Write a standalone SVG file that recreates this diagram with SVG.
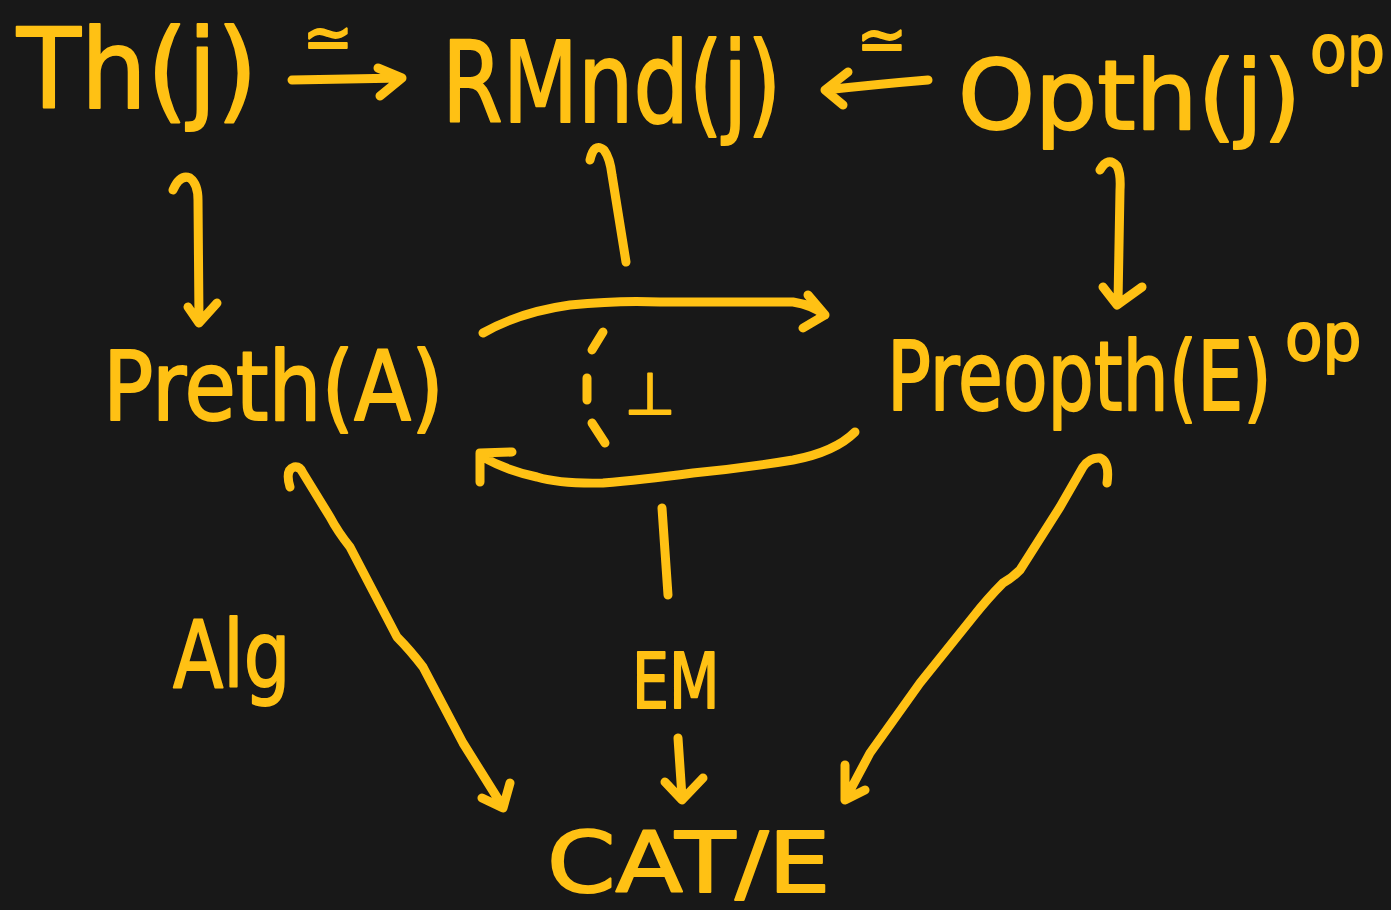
<svg xmlns="http://www.w3.org/2000/svg" width="1391" height="910" viewBox="0 0 1391 910">
<style>
.t{fill:#FFC114;stroke:#FFC114;stroke-width:2;stroke-linejoin:round;font-family:"DejaVu Sans","Noto Sans",sans-serif}
.c path{fill:none;stroke:#FFC114;stroke-width:9;stroke-linecap:round;stroke-linejoin:round}
</style>
<rect width="1391" height="910" fill="#181818"/>
<g id="th"><text class="t" transform="translate(17,108) scale(0.95,1)" font-size="110">Th(j)</text></g>
<g id="rmnd"><text class="t" transform="translate(442,122) scale(0.78,1)" font-size="112">RMnd(j)</text></g>
<g id="opth"><text class="t" transform="translate(958,129) scale(1.02,1)" font-size="96">Opth(j)</text><text class="t" transform="translate(1310,72) scale(0.91,1)" font-size="66">op</text></g>
<g id="preth"><text class="t" transform="translate(103,420) scale(0.87,1)" font-size="96">Preth(A)</text></g>
<g id="preopth"><text class="t" transform="translate(887,410) scale(0.76,1)" font-size="96">Preopth(E)</text><text class="t" transform="translate(1285,360) scale(0.93,1)" font-size="66">op</text></g>
<g id="cat"><text class="t" transform="translate(547,892) scale(1.17,1)" font-size="84">CAT/E</text></g>
<g id="labels">
<text class="t" x="328" y="58" font-size="60" text-anchor="middle">≃</text>
<text class="t" x="882" y="60" font-size="60" text-anchor="middle">≃</text>
<text class="t" x="650" y="414" font-size="58" text-anchor="middle" stroke-width="3">⊥</text>
<text class="t" transform="translate(173,687) scale(0.8,1)" font-size="92">Alg</text>
<text class="t" transform="translate(632,708) scale(0.77,1)" font-size="76">EM</text>
</g>
<g id="connectors" class="c">
<path d="M292,80 L402,78 M378,68 L402,78 L380,96"/>
<path d="M928,80 Q880,84 825,90 M848,72 L825,90 L843,105"/>
<path d="M173,190 Q180,174 190,178 Q198,184 198,200 L199,320 M188,307 L199,323 L217,303"/>
<path d="M590,160 Q594,142 604,150 Q610,158 612,175 L626,262"/>
<path d="M1100,170 Q1108,156 1117,166 Q1121,174 1120,190 L1118,302 M1103,287 L1117,305 L1142,287"/>
<path d="M483,333 Q520,312 570,305 Q620,300 660,302 L793,302 Q812,305 825,315 M808,295 L825,315 L803,328"/>
<path d="M855,432 Q835,452 793,460 Q745,468 693,473 Q640,480 603,483 Q560,484 537,477 Q505,470 483,457 M512,452 L480,453 L480,482"/>
<path d="M603,332 L592,350 M587,378 L587,400 M592,423 L605,443"/>
<path d="M662,508 L668,595"/>
<path d="M678,738 L682,797 M665,782 L682,800 L703,778"/>
<path d="M290,487 Q285,470 294,467 Q300,466 303,473 L330,517 Q338,532 350,547 L397,637 Q410,650 423,667 L463,743 L503,807 M482,798 L503,808 L510,783"/>
<path d="M1107,483 Q1110,462 1100,458 Q1090,457 1083,467 L1060,507 L1020,570 Q1012,578 1003,583 Q988,598 973,617 L920,683 L870,753 L845,800 M845,765 L845,800 L865,790"/>
</g>
</svg>
